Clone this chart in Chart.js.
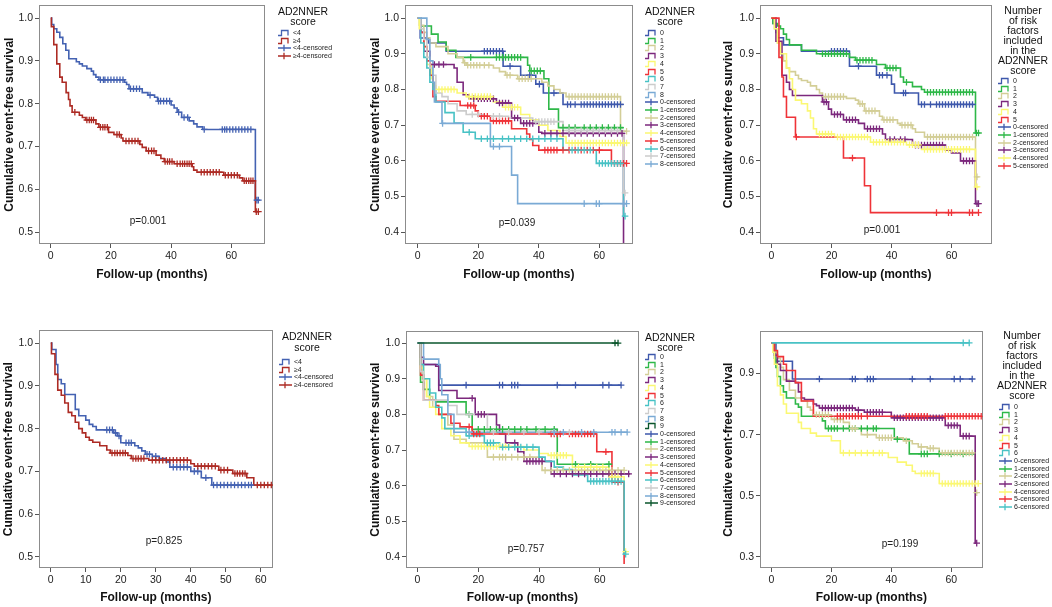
<!DOCTYPE html>
<html>
<head>
<meta charset="utf-8">
<script src="https://cdn.jsdelivr.net/npm/chart.js@4.4.1/dist/chart.umd.min.js"></script>
<style>
  body { margin: 0; background: #fff; }
  #page { position: relative; width: 1052px; height: 607px; overflow: hidden; font-family: "Liberation Sans", Arial, sans-serif; background: #fff; }
  canvas { position: absolute; }
  .legTitle { position: absolute; width: 80px; text-align: center; font-size: 10.5px; line-height: 10px; color: #111; }
  .item { position: absolute; white-space: nowrap; font-size: 7px; line-height: 8px; height: 8px; color: #222; }
  .item svg { position: absolute; left: 0; top: 0; }
  .item span { position: absolute; left: 15px; top: 0; }
  .pval { position: absolute; font-size: 10px; color: #222; transform: translate(-50%, -50%); white-space: nowrap; }
</style>
</head>
<body>
<div id="page"></div>
<script>
// ---- tick labels ----
const xTicks20 = [0, 20, 40, 60];
const xTicks10 = [0, 10, 20, 30, 40, 50, 60];
const yTicks05 = [0.5, 0.6, 0.7, 0.8, 0.9, 1.0];
const yTicks04 = [0.4, 0.5, 0.6, 0.7, 0.8, 0.9, 1.0];
const yTicks03 = [0.3, 0.5, 0.7, 0.9];

// ---- categories ----
const twoGroups = ["<4", "\u22654"];
const scores0to8 = ["0", "1", "2", "3", "4", "5", "6", "7", "8"];
const scores0to9 = ["0", "1", "2", "3", "4", "5", "6", "7", "8", "9"];
const factors0to5 = ["0", "1", "2", "3", "4", "5"];
const factors0to6 = ["0", "1", "2", "3", "4", "5", "6"];

// ---- panel 1 (top left): [month, survival] at each step, censor months ----
const p1Lt4 = [[0,1],[0.3,0.985],[1,0.975],[2,0.967],[3,0.955],[4,0.94],[5,0.925],[6,0.905],[8.5,0.898],[9.5,0.893],[10.5,0.888],[12,0.882],[13.5,0.876],[14.2,0.868],[15,0.862],[16,0.856],[24.5,0.85],[25.2,0.845],[26,0.835],[30.4,0.826],[32.3,0.82],[34.5,0.815],[35.5,0.806],[40,0.797],[41,0.79],[42,0.78],[43.5,0.768],[46,0.76],[47.5,0.753],[48.6,0.746],[50.5,0.74],[68,0.575],[69,0.575]];
const p1Lt4Cens = [16.5,17.5,18,19,20,21,22,23,24,26.5,27.5,28.5,29.5,33,35.8,36.5,37.5,38.5,39.5,42.5,44.3,45.5,51,57,57.8,58.5,59.5,60.5,61.5,62.5,63.5,64.5,65.5,66.5,68.5,69];
const p1Ge4 = [[0,1],[0.2,0.98],[1,0.938],[2,0.893],[3,0.862],[3.8,0.85],[5.1,0.826],[5.9,0.81],[6.4,0.795],[7.1,0.78],[9.5,0.773],[10.5,0.768],[11.6,0.762],[15,0.753],[16,0.745],[19.2,0.733],[21,0.728],[23.4,0.72],[24,0.713],[29.6,0.705],[30.4,0.698],[31.7,0.69],[35,0.68],[36.6,0.672],[37.7,0.665],[41,0.66],[47,0.653],[47.5,0.645],[48.6,0.64],[57.5,0.633],[62.7,0.627],[63.8,0.62],[68,0.548],[69,0.548]];
const p1Ge4Cens = [8,12,12.8,13.5,14.2,16.5,17.3,18,18.8,22,22.8,25,26,27,28,29,32.5,33.5,34.3,38,38.8,39.5,40.3,42,43,43.8,44.5,45.3,46,46.7,50,51,52,53,54,55,56,58,59,60,61,62,64.3,65,65.8,66.5,67.2,68.3,69];

// ---- panel 2 (top middle): AD2NNER score 0..8 ----
const p2S0 = [[0,1],[0.8,0.944],[3.5,0.93],[9.4,0.907],[28.2,0.865],[34,0.84],[39,0.815],[41.5,0.79],[48,0.758],[68,0.758]];
const p2S0Cens = [22,23,24,25,26,27,28,30.5,37,40.2,45,49.5,50.5,52,54,55,56,57,58,59,60,61,62,63,64,65,66,67];
const p2S1 = [[0,1],[0.8,0.978],[4.5,0.955],[6.7,0.933],[9.4,0.91],[12.6,0.89],[36.3,0.868],[37,0.852],[41.7,0.83],[43.3,0.745],[46.5,0.693],[68,0.693]];
const p2S1Cens = [17.5,26,27,28,29,30,31,32,33,34,37.5,38.5,39.5,40.5,48,50,52,55,57,59,61,63,65,67];
const p2S2 = [[0,1],[0.5,0.98],[2,0.96],[3,0.945],[4,0.93],[6,0.92],[10,0.9],[13,0.89],[15,0.875],[16,0.868],[25,0.86],[27,0.85],[29,0.84],[33,0.83],[41,0.82],[43,0.81],[45,0.8],[47,0.79],[49,0.78],[67,0.683],[69,0.683]];
const p2S2Cens = [15.5,16.5,17.5,18.5,19.5,20.5,22,23.5,29.5,30.5,33.5,34.5,35.5,36.5,37.5,50,51,52,53,54,55,56,57,58,59,60,61,62,63,64,65,66,69];
const p2S3 = [[0,1],[1,0.96],[2,0.907],[4,0.87],[12,0.86],[13,0.82],[15,0.785],[17,0.774],[26,0.762],[31,0.72],[34,0.705],[40,0.68],[41,0.677],[68,0.37]];
const p2S3Cens = [5.5,7,8.5,18.5,20,21,22,23,24,25,27,28,29,30,32,33,35,36,37,38,42,44,46,48,50,52,54,56,58,60,62,64,66,67.5];
const p2S4 = [[0,1],[0.5,0.97],[2,0.92],[3,0.87],[4.5,0.83],[5,0.81],[6,0.8],[13,0.79],[16,0.78],[25,0.765],[28,0.75],[34,0.73],[37,0.715],[40,0.7],[43,0.685],[47,0.668],[49,0.65],[69,0.65]];
const p2S4Cens = [7,8,9,10,11,12,17,18,19,20,21,22,23,24,29,30,31,32,33,50,51,52,53,54,55,56,57,58,59,60,61,62,63,64,65,66,67,68,69];
const p2S5 = [[0,1],[1,0.96],[2,0.92],[3,0.88],[4,0.84],[5,0.78],[6,0.767],[14,0.755],[19,0.74],[20,0.725],[24,0.712],[31,0.69],[36,0.675],[37,0.66],[38,0.643],[40,0.63],[64,0.593],[69,0.593]];
const p2S5Cens = [16.5,17.5,18.5,21,22,23,25,26,27,28,29,30,42,43,44,45,46,48,50,52,54,56,58,60,65,66,67,68,69];
const p2S6 = [[0,1],[1,0.93],[2,0.89],[3,0.86],[4,0.82],[5,0.8],[6,0.765],[9,0.735],[12,0.706],[15,0.68],[19,0.662],[48,0.63],[59,0.593],[68,0.445],[68.5,0.445]];
const p2S6Cens = [17,21,23,25,28,30,32,34,36,38,40,42,44,46,51,53,55,57,60,61,62,63,64,65,66,67,68.5];
const p2S7 = [[0,1],[1,0.97],[2,0.94],[3,0.89],[4,0.86],[5,0.84],[6,0.79],[8,0.78],[10,0.76],[13,0.74],[16,0.73],[22,0.725],[30,0.72],[38,0.71],[48,0.685],[68,0.51],[68.5,0.51]];
const p2S7Cens = [18,20,25,27,39,40,41,42,43,44,45,50,52,54,56,58,60,62,64,66,68.5];
const p2S8 = [[0,1],[3,0.94],[4,0.88],[5,0.82],[5.5,0.765],[8,0.705],[24,0.64],[31,0.56],[33,0.48],[69,0.48]];
const p2S8Cens = [8.2,25,27,55,59,60,68,69];

// ---- panel 3 (top right): number of risk factors 0..5 ----
const p3S0 = [[0,1],[0.5,0.985],[1.5,0.96],[2,0.945],[4,0.925],[10,0.907],[26,0.865],[35,0.84],[40,0.815],[41,0.79],[49,0.758],[68,0.758]];
const p3S0Cens = [20,21,22,23,24,25,29,36,37,38.5,44,44.7,50,51,53,55,56,57,58,59,60,61,62,63,64,65,66,67];
const p3S1 = [[0,1],[0.5,0.985],[2,0.978],[3,0.97],[4,0.955],[5,0.94],[6,0.925],[10,0.91],[15,0.9],[26,0.89],[28,0.882],[35,0.87],[38,0.86],[43,0.835],[44,0.82],[47,0.808],[50,0.8],[51,0.792],[68,0.678],[69,0.678]];
const p3S1Cens = [17,18,19,20,21,22,23,24,25,28.5,29.5,30.5,31.5,32.5,33.5,38.5,39.5,40.5,41.5,45,52,53,54,55,56,57,58,59,60,61,62,63,64,65,66,67,68.3,69];
const p3S2 = [[0,1],[1,0.97],[2,0.93],[3,0.9],[4,0.88],[5,0.86],[6,0.85],[8,0.84],[9,0.83],[10,0.825],[12,0.82],[13,0.81],[15,0.8],[16,0.79],[17,0.78],[25,0.775],[28,0.77],[29,0.76],[31,0.74],[36,0.725],[37,0.715],[42,0.705],[43,0.7],[47,0.69],[48,0.68],[51,0.667],[68,0.555],[69,0.555]];
const p3S2Cens = [18,19,20,21,22,23,24,29.5,30.3,31.5,32.5,33.5,34.5,37.5,38.5,39.5,40.5,43.5,44.5,45.5,46.5,52,53,54,55,56,57,58,59,60,61,62,63,64,65,66,67,68.5];
const p3S3 = [[0,1],[1.5,0.935],[3.5,0.84],[5,0.82],[6,0.8],[7,0.783],[17,0.765],[19,0.745],[20,0.73],[24,0.715],[29,0.705],[31,0.69],[37,0.675],[38,0.66],[47,0.644],[58,0.63],[60,0.622],[63,0.6],[68,0.48],[69,0.48]];
const p3S3Cens = [17.5,18.3,21,22,23,25,26,27,28,32,33,34,35,36,39.5,41,43,44.5,48,49,50,51,52,53,54,55,56,57,64,65,66,67,68.5,69];
const p3S4 = [[0,1],[1,0.97],[2,0.93],[3,0.9],[5,0.86],[6,0.83],[7,0.8],[8,0.77],[10,0.76],[12,0.74],[13,0.72],[14,0.69],[15,0.675],[21,0.667],[33,0.652],[45,0.645],[50,0.632],[68,0.527],[69,0.527]];
const p3S4Cens = [16,17,18,19,20,22,23,24,25,26,27,28,29,30,31,32,34,35,36,37,38,39,40,41,42,43,44,46,47,48,49,51,52,53,54,55,56,57,58,59,60,61,62,63,64,65,66,68.5];
const p3S5 = [[0,1],[2.5,0.89],[3.5,0.835],[4,0.78],[5,0.722],[8,0.667],[24,0.608],[31,0.53],[33,0.455],[69,0.455]];
const p3S5Cens = [8.3,27,55,59,60,66,67,69];

// ---- panel 4 (bottom left) ----
const p4Lt4 = [[0,1],[0.3,0.985],[1.5,0.95],[2,0.915],[3,0.905],[4,0.88],[7,0.845],[8,0.83],[10,0.82],[11,0.81],[12,0.805],[13,0.797],[18,0.79],[19,0.783],[20,0.767],[24,0.76],[25,0.755],[26,0.748],[27,0.74],[29,0.735],[31,0.73],[33,0.722],[34,0.71],[40,0.7],[43,0.685],[46,0.668],[58,0.668]];
const p4Lt4Cens = [16,16.8,17.6,18.5,19.5,21.5,22.3,23,27.5,28.2,30,35,36,37,38,39,41,42,44.3,46.5,47.5,48.5,49.5,50.5,51.5,52.5,53.5,54.5,55.5,56.5,57.3];
const p4Ge4 = [[0,1],[0.2,0.975],[1.2,0.927],[2,0.89],[3,0.878],[4,0.86],[5,0.838],[6,0.83],[7,0.815],[8,0.8],[9,0.79],[10,0.78],[11,0.773],[12,0.768],[14,0.76],[16,0.75],[17,0.743],[22,0.737],[23,0.73],[28,0.726],[40,0.718],[41,0.712],[48,0.703],[52,0.695],[56,0.685],[58,0.668],[66,0.668]];
const p4Ge4Cens = [17.5,18.3,19,19.8,20.6,21.3,23.5,24.3,25,25.8,26.6,29,30,31,32,33,34,35,36,37,38,39,42,43,44,45,46,47,48.6,49.5,50.5,52.6,53.3,54,54.8,55.5,59,60,61,62,63];

// ---- panel 5 (bottom middle): AD2NNER score 0..9 ----
const p5S0 = [[0,1],[1,0.94],[7,0.882],[67,0.882]];
const p5S0Cens = [16,27,28,31,32,33,46,52,61,63,67];
const p5S1 = [[0,1],[1,0.89],[2,0.87],[4,0.84],[6,0.835],[16,0.8],[18,0.758],[46,0.66],[64,0.66]];
const p5S1Cens = [17,20,22,24,26,28,30,32,34,36,39,42,45,52,57,63];
const p5S2 = [[0,1],[1,0.94],[1.5,0.9],[3,0.85],[5,0.82],[7,0.8],[10,0.77],[12,0.73],[16,0.72],[23,0.68],[41,0.643],[68,0.643]];
const p5S2Cens = [25,27,28,29,31,33,35,37,42,44,46,48,50,52,54,56,58,60,62,64,66,68];
const p5S3 = [[0,1],[1,0.96],[2,0.94],[6,0.935],[7,0.867],[13,0.845],[19,0.8],[26,0.77],[27,0.745],[29,0.72],[33,0.695],[35,0.668],[44,0.633],[70,0.633]];
const p5S3Cens = [18,20,21,22,32,36,37,38,39,40,41,45,47,49,51,53,55,57,59,61,63,65,67,69.5];
const p5S4 = [[0,1],[1,0.93],[2,0.9],[3,0.85],[4,0.82],[6,0.8],[8,0.76],[11,0.74],[14,0.72],[17,0.71],[35,0.7],[40,0.69],[43,0.685],[51,0.652],[63,0.625],[68,0.415],[68.5,0.415]];
const p5S4Cens = [18,19,20,21,22,23,24,25,26,27,28,29,30,44,45,46,47,48,49,53,55,57,59,61,64,65,66,68.5];
const p5S5 = [[0,1],[1,0.91],[2,0.84],[6,0.825],[7,0.8],[11,0.775],[14,0.765],[18,0.745],[59,0.695],[64,0.61],[68,0.38]];
const p5S5Cens = [17,18.5,19.5,20.5,44,45,46,47,50,51,52,53,54,55,56,57,58,62,66];
const p5S6 = [[0,1],[1,0.94],[2,0.9],[4,0.86],[6,0.82],[8,0.79],[9,0.76],[16,0.74],[22,0.72],[27,0.708],[40,0.68],[42,0.668],[45,0.652],[48,0.645],[51,0.63],[56,0.612],[68,0.408],[68.5,0.408]];
const p5S6Cens = [17,23,24,25,28,30,32,34,36,38,57,58,59,60,61,62,63,64,65,66,67,68.5];
const p5S7 = [[0,1],[1,0.92],[2,0.84],[10,0.825],[13,0.8],[23,0.75],[50,0.75]];
const p5S7Cens = [17,25,30,35,40,45,50];
const p5S8 = [[0,1],[2,0.955],[7,0.94],[7.5,0.9],[8,0.855],[10,0.8],[12,0.75],[69,0.75]];
const p5S8Cens = [17,45,48,54,58,64,65,67,69];
const p5S9 = [[0,1],[66,1]];
const p5S9Cens = [65,66];

// ---- panel 6 (bottom right): number of risk factors 0..6 ----
const p6S0 = [[0,1],[1.5,0.94],[7,0.882],[67,0.882]];
const p6S0Cens = [16,27,28,32,33,34,47,53,61,63,67];
const p6S1 = [[0,1],[1,0.95],[1.5,0.92],[2,0.89],[3,0.86],[4,0.84],[5,0.82],[8,0.8],[9,0.79],[10,0.76],[17,0.745],[18,0.72],[41,0.685],[46,0.637],[68,0.637]];
const p6S1Cens = [19,20,21,22,24,26,28,30,32,34,35,42,50,51,52,56,60,64];
const p6S2 = [[0,1],[1,0.97],[2,0.95],[3,0.92],[4,0.88],[6,0.845],[8,0.82],[10,0.81],[12,0.79],[13,0.78],[14,0.765],[20,0.75],[24,0.74],[26,0.72],[30,0.7],[35,0.69],[44,0.68],[47,0.67],[49,0.66],[52,0.655],[56,0.64],[68,0.51],[69,0.51]];
const p6S2Cens = [15,16,17,18,19,21,22,23,27,28,32,36,37,38,39,40,45,50,53,54,57,58,59,60,61,62,63,64,65,66,67,68.5];
const p6S3 = [[0,1],[1,0.96],[2,0.93],[3,0.91],[5,0.875],[8,0.87],[9,0.84],[10,0.82],[11,0.815],[14,0.8],[15,0.795],[16,0.787],[28,0.78],[31,0.773],[40,0.755],[58,0.73],[63,0.695],[68,0.345],[68.5,0.345]];
const p6S3Cens = [17,18,19,20,21,22,23,24,25,26,27,29,32,33,34,35,36,37,41,42,43,44,45,46,47,48,49,50,51,52,53,54,55,56,57,59,60,61,62,64,65,66,68.5];
const p6S4 = [[0,1],[0.5,0.97],[1,0.93],[2,0.86],[3,0.83],[4,0.8],[5,0.77],[9,0.74],[10,0.72],[13,0.705],[15,0.695],[20,0.68],[23,0.64],[39,0.625],[42,0.61],[45,0.6],[47,0.58],[48,0.573],[56,0.54],[69,0.54]];
const p6S4Cens = [24,26,28,30,32,34,36,37,50,51,52,53,54,57,58,59,60,61,62,63,64,65,66,67,68,69];
const p6S5 = [[0,1],[1,0.975],[2,0.955],[4,0.93],[5,0.91],[8,0.87],[10,0.81],[14,0.76],[70,0.76]];
const p6S5Cens = [22,23,24,25,26,27,28,29,30,32,45,46,47,48,49,50,51,52,58,59,60,61,62,63,64,65,66,67,68,69,70];
const p6S6 = [[0,1],[66,1]];
const p6S6Cens = [64,66];

// ---- colours ----
const twoColors = ["#4462b2", "#ad2b24"];
const spss = ["#3e58ac", "#2eb848", "#d3ce97", "#7c287d", "#fbf873", "#ef3338", "#48c2c5", "#cccccc", "#7aaad5", "#0a562c"];

const page = document.getElementById("page");
const titleFont = { family: "'Liberation Sans', Arial, sans-serif", size: 12, weight: "bold", lineHeight: 1.2 };
const tickFont = { family: "'Liberation Sans', Arial, sans-serif", size: 10.5 };

// survival level of a step curve at month t
function levelAt(curve, t) {
  let s = curve[0][1];
  for (const [ti, si] of curve) {
    if (ti <= t) s = si;
  }
  return s;
}

const framePlugin = {
  id: "frame",
  beforeDatasetsDraw(chart) {
    const a = chart.chartArea;
    const ctx = chart.ctx;
    ctx.save();
    ctx.strokeStyle = "#8c8c8c";
    ctx.lineWidth = 1;
    ctx.strokeRect(Math.round(a.left) + 0.5, Math.round(a.top) + 0.5, Math.round(a.right - a.left) - 1, Math.round(a.bottom - a.top) - 1);
    ctx.restore();
  }
};

function makePanel(p) {
  const cv = document.createElement("canvas");
  cv.width = p.box[2];
  cv.height = p.box[3];
  cv.style.left = p.box[0] + "px";
  cv.style.top = p.box[1] + "px";
  cv.style.width = p.box[2] + "px";
  cv.style.height = p.box[3] + "px";
  page.appendChild(cv);

  const datasets = [];
  p.curves.forEach((c, i) => {
    datasets.push({
      data: c.map(([x, y]) => ({ x, y })),
      stepped: true,
      borderColor: p.colors[i],
      borderWidth: 1.6,
      pointRadius: 0,
      fill: false,
      order: 100 - i
    });
  });
  p.cens.forEach((ts, i) => {
    datasets.push({
      data: ts.map(t => ({ x: t, y: levelAt(p.curves[i], t) })),
      showLine: false,
      pointStyle: "cross",
      pointRadius: 3.3,
      borderWidth: 1.3,
      borderColor: p.colors[i],
      backgroundColor: p.colors[i],
      order: 50 - i
    });
  });

  new Chart(cv, {
    type: "line",
    data: { datasets },
    plugins: [framePlugin],
    options: {
      responsive: false,
      animation: false,
      events: [],
      layout: { padding: { top: 1, right: 1, left: 0, bottom: 0 } },
      plugins: { legend: { display: false }, tooltip: { enabled: false } },
      scales: {
        x: {
          type: "linear",
          min: p.xRange[0],
          max: p.xRange[1],
          afterBuildTicks: s => { s.ticks = p.xTicks.map(v => ({ value: v })); },
          afterFit: s => { s.height = p.xh; s.paddingLeft = 0; s.paddingRight = 0; },
          border: { display: false },
          grid: { drawOnChartArea: false, drawTicks: true, tickLength: 4, color: "#555" },
          ticks: { font: tickFont, color: "#222", padding: 2, maxRotation: 0, autoSkip: false },
          title: { display: true, text: "Follow-up (months)", font: titleFont, color: "#111", padding: { top: 0, bottom: 2 } }
        },
        y: {
          min: p.yRange[0],
          max: p.yRange[1],
          afterBuildTicks: s => { s.ticks = p.yTicks.map(v => ({ value: v })); },
          afterFit: s => { s.width = p.yw; s.paddingTop = 0; s.paddingBottom = 0; },
          border: { display: false },
          grid: { drawOnChartArea: false, drawTicks: true, tickLength: 4, color: "#555" },
          ticks: { font: tickFont, color: "#222", padding: 2, callback: v => v.toFixed(1) },
          title: { display: true, text: p.yTitle, font: titleFont, color: "#111", padding: { top: 1, bottom: 0 } }
        }
      }
    }
  });

  // legend
  const t = document.createElement("div");
  t.className = "legTitle";
  t.style.left = (p.legTitle[0] - 40) + "px";
  t.style.top = p.legTitle[1] + "px";
  t.style.lineHeight = p.legTitle[2] + "px";
  t.innerHTML = p.legTitleLines.join("<br>");
  page.appendChild(t);

  const labels = p.labels.map((l, i) => ({ text: l, color: p.colors[i], cens: false }))
    .concat(p.labels.map((l, i) => ({ text: l + "-censored", color: p.colors[i], cens: true })));
  labels.forEach((l, i) => {
    const d = document.createElement("div");
    d.className = "item";
    d.style.left = p.legItems[0] + "px";
    d.style.top = (p.legItems[1] + i * 7.7 - 4) + "px";
    const icon = l.cens
      ? '<svg width="14" height="8"><path d="M0 4 H13 M6 0.8 V7.2" stroke="' + l.color + '" stroke-width="1.3" fill="none"/></svg>'
      : '<svg width="14" height="8"><path d="M0 6.5 H3.5 V1.5 H10 V6.5" stroke="' + l.color + '" stroke-width="1.3" fill="none"/></svg>';
    d.innerHTML = icon + "<span></span>";
    d.querySelector("span").textContent = l.text;
    page.appendChild(d);
  });

  const pv = document.createElement("div");
  pv.className = "pval";
  pv.style.left = p.pPos[0] + "px";
  pv.style.top = p.pPos[1] + "px";
  pv.textContent = p.pText;
  page.appendChild(pv);
}

const scoreTitle = ["AD2NNER", "score"];
const factorTitle = ["Number", "of risk", "factors", "included", "in the", "AD2NNER", "score"];

makePanel({
  box: [1, 0, 269, 284], yw: 38, xh: 40,
  xRange: [-3.91, 71.1], yRange: [0.4725, 1.0298], xTicks: xTicks20, yTicks: yTicks05,
  yTitle: "Cumulative event-free survival",
  curves: [p1Lt4, p1Ge4], cens: [p1Lt4Cens, p1Ge4Cens], colors: twoColors, labels: twoGroups,
  legTitleLines: scoreTitle, legTitle: [303, 6, 10], legItems: [278, 33],
  pText: "p=0.001", pPos: [148, 220]
});
makePanel({
  box: [367, 0, 271, 284], yw: 38, xh: 40,
  xRange: [-4.22, 71.03], yRange: [0.367, 1.0358], xTicks: xTicks20, yTicks: yTicks04,
  yTitle: "Cumulative event-free survival",
  curves: [p2S0, p2S1, p2S2, p2S3, p2S4, p2S5, p2S6, p2S7, p2S8],
  cens: [p2S0Cens, p2S1Cens, p2S2Cens, p2S3Cens, p2S4Cens, p2S5Cens, p2S6Cens, p2S7Cens, p2S8Cens],
  colors: spss, labels: scores0to8,
  legTitleLines: scoreTitle, legTitle: [670, 6, 10], legItems: [645, 33],
  pText: "p=0.039", pPos: [517, 222]
});
makePanel({
  box: [720, 0, 277, 284], yw: 40, xh: 40,
  xRange: [-3.82, 73.4], yRange: [0.367, 1.0358], xTicks: xTicks20, yTicks: yTicks04,
  yTitle: "Cumulativ event-free survival",
  curves: [p3S0, p3S1, p3S2, p3S3, p3S4, p3S5],
  cens: [p3S0Cens, p3S1Cens, p3S2Cens, p3S3Cens, p3S4Cens, p3S5Cens],
  colors: spss, labels: factors0to5,
  legTitleLines: factorTitle, legTitle: [1023, 5, 10], legItems: [998, 81],
  pText: "p=0.001", pPos: [882, 229]
});
makePanel({
  box: [0, 325, 278, 282], yw: 39, xh: 39,
  xRange: [-3.36, 63.4], yRange: [0.474, 1.03], xTicks: xTicks10, yTicks: yTicks05,
  yTitle: "Cumulative event-free survival",
  curves: [p4Lt4, p4Ge4], cens: [p4Lt4Cens, p4Ge4Cens], colors: twoColors, labels: twoGroups,
  legTitleLines: scoreTitle, legTitle: [307, 331, 11], legItems: [279, 362],
  pText: "p=0.825", pPos: [164, 540]
});
makePanel({
  box: [367, 326, 277, 281], yw: 39, xh: 39,
  xRange: [-3.78, 72.8], yRange: [0.369, 1.033], xTicks: xTicks20, yTicks: yTicks04,
  yTitle: "Cumulative event-free survival",
  curves: [p5S0, p5S1, p5S2, p5S3, p5S4, p5S5, p5S6, p5S7, p5S8, p5S9],
  cens: [p5S0Cens, p5S1Cens, p5S2Cens, p5S3Cens, p5S4Cens, p5S5Cens, p5S6Cens, p5S7Cens, p5S8Cens, p5S9Cens],
  colors: spss, labels: scores0to9,
  legTitleLines: scoreTitle, legTitle: [670, 332, 10], legItems: [645, 357],
  pText: "p=0.757", pPos: [526, 548]
});
makePanel({
  box: [720, 326, 268, 281], yw: 40, xh: 39,
  xRange: [-3.82, 70.5], yRange: [0.2637, 1.038], xTicks: xTicks20, yTicks: yTicks03,
  yTitle: "Cumulative event-free survival",
  curves: [p6S0, p6S1, p6S2, p6S3, p6S4, p6S5, p6S6],
  cens: [p6S0Cens, p6S1Cens, p6S2Cens, p6S3Cens, p6S4Cens, p6S5Cens, p6S6Cens],
  colors: spss, labels: factors0to6,
  legTitleLines: factorTitle, legTitle: [1022, 330, 10], legItems: [999, 407],
  pText: "p=0.199", pPos: [900, 543]
});
</script>
</body>
</html>
